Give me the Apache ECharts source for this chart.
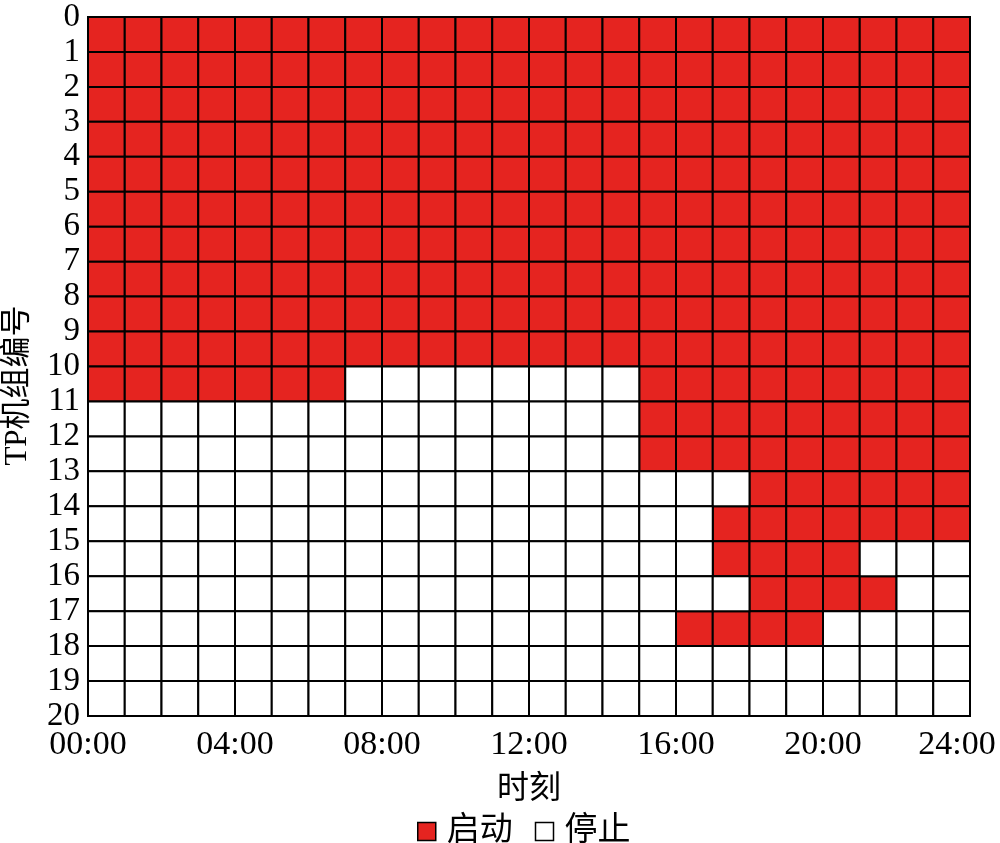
<!DOCTYPE html>
<html>
<head>
<meta charset="utf-8">
<script src="https://cdn.jsdelivr.net/npm/echarts@6/dist/echarts.min.js"></script>
<style>
html,body{margin:0;padding:0;background:#fff;}
#chart{width:1000px;height:843px;}
</style>
</head>
<body>
<div id="chart"></div>
<script>
// Time tick labels (every 4 hours)
var xTickLabels = ['00:00', '04:00', '08:00', '12:00', '16:00', '20:00', '24:00'];
// Series names
var seriesNames = ['启动', '停止'];
// Unit status per TP unit (row 0..19), per hour (0..23); 1 = 启动, 0 = 停止
var unitStatus = [
  '1111 1111 1111 1111 1111 1111', // 0
  '1111 1111 1111 1111 1111 1111', // 1
  '1111 1111 1111 1111 1111 1111', // 2
  '1111 1111 1111 1111 1111 1111', // 3
  '1111 1111 1111 1111 1111 1111', // 4
  '1111 1111 1111 1111 1111 1111', // 5
  '1111 1111 1111 1111 1111 1111', // 6
  '1111 1111 1111 1111 1111 1111', // 7
  '1111 1111 1111 1111 1111 1111', // 8
  '1111 1111 1111 1111 1111 1111', // 9
  '1111 1110 0000 0001 1111 1111', // 10
  '0000 0000 0000 0001 1111 1111', // 11
  '0000 0000 0000 0001 1111 1111', // 12
  '0000 0000 0000 0000 0011 1111', // 13
  '0000 0000 0000 0000 0111 1111', // 14
  '0000 0000 0000 0000 0111 1000', // 15
  '0000 0000 0000 0000 0011 1100', // 16
  '0000 0000 0000 0000 1111 0000', // 17
  '0000 0000 0000 0000 0000 0000', // 18
  '0000 0000 0000 0000 0000 0000'  // 19
];

var onCells = [], offCells = [];
unitStatus.forEach(function (s, row) {
  var bits = s.replace(/\s/g, '');
  for (var col = 0; col < bits.length; col++) {
    if (bits[col] === '1') onCells.push([col, row]); else offCells.push([col, row]);
  }
});

var RED = '#E52420';
var FONT = "'Liberation Serif', 'Times New Roman', 'Noto Sans CJK SC', serif";

function makeRender(fill) {
  return function (params, api) {
    var c = api.value(0), r = api.value(1);
    var p1 = api.coord([c, r]);
    var p2 = api.coord([c + 1, r + 1]);
    return {
      type: 'rect',
      shape: {
        x: Math.min(p1[0], p2[0]),
        y: Math.min(p1[1], p2[1]),
        width: Math.abs(p2[0] - p1[0]),
        height: Math.abs(p2[1] - p1[1])
      },
      style: { fill: fill, stroke: '#000', lineWidth: 2 }
    };
  };
}

var chart = echarts.init(document.getElementById('chart'));
chart.setOption({
  animation: false,
  backgroundColor: '#fff',
  textStyle: { fontFamily: FONT, color: '#000' },
  grid: { left: 88, right: 30, top: 17, bottom: 127, containLabel: false, outerBoundsMode: 'none' },
  xAxis: {
    type: 'value', min: 0, max: 24, interval: 1,
    name: '时刻', nameLocation: 'middle', nameGap: 58,
    nameTextStyle: { fontSize: 32, fontFamily: FONT, color: '#000' },
    axisLine: { show: true, lineStyle: { color: '#000', width: 2 } },
    axisTick: { show: false },
    splitLine: { show: false },
    axisLabel: {
      fontSize: 34, fontFamily: FONT, color: '#000', margin: 12,
      showMinLabel: true, showMaxLabel: true,
      formatter: function (v) {
        if (v % 4 !== 0) return '';
        var t = xTickLabels[v / 4];
        return v === 24 ? '{last|' + t + '}' : t;
      },
      rich: {
        last: { fontSize: 34, fontFamily: FONT, color: '#000', padding: [0, 26, 0, 0] }
      }
    }
  },
  yAxis: {
    type: 'value', min: 0, max: 20, interval: 1, inverse: true,
    name: 'TP机组编号', nameLocation: 'middle', nameGap: 55,
    nameTextStyle: { fontSize: 31, fontFamily: FONT, color: '#000', padding: [0, 38, 0, 0] },
    axisLine: { show: true, lineStyle: { color: '#000', width: 2 } },
    axisTick: { show: false },
    splitLine: { show: false },
    axisLabel: { fontSize: 33, fontFamily: FONT, color: '#000', margin: 8, showMinLabel: true, showMaxLabel: true }
  },
  legend: {
    left: 412, top: 810,
    itemWidth: 18, itemHeight: 18, itemGap: 22,
    textStyle: { fontSize: 33, fontFamily: FONT, color: '#000', padding: [0, 0, 0, 6] },
    data: [
      { name: seriesNames[0], icon: 'rect', itemStyle: { color: RED, borderColor: '#000', borderWidth: 1.5 } },
      { name: seriesNames[1], icon: 'rect', itemStyle: { color: '#fff', borderColor: '#000', borderWidth: 1.5 } }
    ]
  },
  series: [
    { type: 'custom', name: seriesNames[0], renderItem: makeRender(RED), data: onCells,
      itemStyle: { color: RED, borderColor: '#000' }, encode: { x: 0, y: 1 } },
    { type: 'custom', name: seriesNames[1], renderItem: makeRender('#fff'), data: offCells,
      itemStyle: { color: '#fff', borderColor: '#000' }, encode: { x: 0, y: 1 } }
  ]
});
</script>
</body>
</html>
